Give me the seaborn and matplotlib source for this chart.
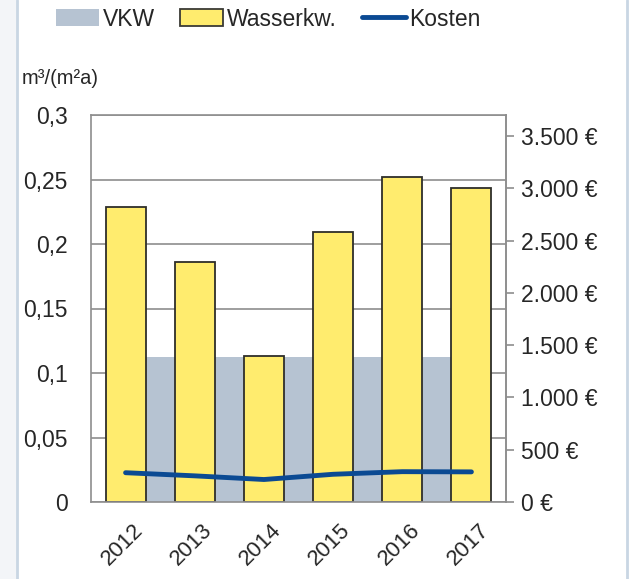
import matplotlib
matplotlib.use("Agg")
import numpy as np
import pandas as pd
import matplotlib.pyplot as plt
import matplotlib.transforms as mtransforms
import seaborn as sns
from matplotlib.patches import Patch
from matplotlib.lines import Line2D
from matplotlib.ticker import FuncFormatter

# ---------------------- 데이터 ----------------------
years = ["2012", "2013", "2014", "2015", "2016", "2017"]
wasserkw = [0.229, 0.186, 0.113, 0.209, 0.252, 0.2435]   # m3/(m2a)
vkw = [0.1125, 0.1125, 0.1125, 0.1125, 0.1125, 0.1125]   # Vergleichskennwert
kosten = [280, 250, 215, 265, 290, 288]                  # EUR

left_ticks = [0, 0.05, 0.1, 0.15, 0.2, 0.25, 0.3]
right_ticks = [0, 500, 1000, 1500, 2000, 2500, 3000, 3500]

YELLOW = "#FFEC6E"
GREY_AREA = "#B6C3D2"
BLUE = "#0B4A93"
GRID = "#8E8E8E"

sns.set_style("white")
plt.rcParams['font.family'] = ['Liberation Sans', 'DejaVu Sans']

df = pd.DataFrame({"Jahr": years, "Wasserkw.": wasserkw, "VKW": vkw, "Kosten": kosten})
pos = np.arange(len(years))

fig = plt.figure(figsize=(6.31, 5.79), dpi=100)
ax = fig.add_axes([91 / 631, 1 - 502 / 579, (506 - 91) / 631, (502 - 115) / 579])

# grey VKW area behind bars
ax.fill_between(pos, 0, df["VKW"], color=GREY_AREA, lw=0, zorder=1)

sns.barplot(data=df, x="Jahr", y="Wasserkw.", color=YELLOW, saturation=1,
            width=0.58, edgecolor="#2E2E2A", linewidth=1.3, ax=ax, zorder=2)

ax.set_xlim(-0.5, 5.5)
ax.set_ylim(0, 0.3)
ax.set_yticks(left_ticks)
ax.yaxis.set_major_formatter(FuncFormatter(lambda v, p: "0" if v == 0 else f"{v:g}".replace(".", ",")))
ax.tick_params(axis="y", length=0, pad=17, labelsize=16.5)
ax.tick_params(axis="x", length=0, pad=13, labelsize=16)
ax.set_xlabel("")
ax.set_ylabel("")
ax.grid(axis="y", color=GRID, lw=1.2, zorder=0)
ax.set_axisbelow(True)
for s in ax.spines.values():
    s.set_color(GRID)
    s.set_linewidth(1.2)
shift = mtransforms.ScaledTranslation(7 / 100, 0, fig.dpi_scale_trans)
for lab in ax.get_xticklabels():
    lab.set_rotation(45)
    lab.set_ha("right")
    lab.set_rotation_mode("anchor")
    lab.set_transform(lab.get_transform() + shift)

# Kosten on secondary axis
ax2 = ax.twinx()
sns.lineplot(x=pos, y=df["Kosten"], color=BLUE, lw=3.5, ax=ax2, solid_capstyle="round")
ax2.set_ylim(0, 3700)
ax2.set_yticks(right_ticks)
ax2.yaxis.set_major_formatter(FuncFormatter(lambda v, p: f"{int(v):,} €".replace(",", ".")))
ax2.tick_params(axis="y", direction="out", length=6, width=1.2, color=GRID, pad=5, labelsize=16.5)
ax2.set_ylabel("")
for s in ax2.spines.values():
    s.set_visible(False)
ax2.spines["right"].set_visible(True)
ax2.spines["right"].set_color(GRID)
ax2.spines["right"].set_linewidth(1.2)

# unit label
fig.text(22 / 631, 1 - 78 / 579, "m³/(m²a)", fontsize=14.5, va="center", ha="left")

# legend
handles = [Patch(facecolor=GREY_AREA, edgecolor="none"),
           Patch(facecolor=YELLOW, edgecolor="#3A3A35", linewidth=1.3),
           Line2D([0], [0], color=BLUE, lw=3.5)]
fig.legend(handles, ["VKW", "Wasserkw.", "Kosten"], loc="center", ncol=3,
           bbox_to_anchor=(268 / 631, 1 - 19 / 579), frameon=False, fontsize=16.5,
           handlelength=1.9, handleheight=0.75, handletextpad=0.15, columnspacing=1.1)

# window frame lines
fig.add_artist(plt.Rectangle((0, 0), 17 / 631, 1, transform=fig.transFigure,
                             facecolor="#F3F5F8", edgecolor="none", zorder=-1))
fig.add_artist(Line2D([17 / 631, 17 / 631], [0, 1], transform=fig.transFigure, color="#C9D6E3", lw=2))
fig.add_artist(Line2D([627 / 631, 627 / 631], [0, 1], transform=fig.transFigure, color="#C9D6E3", lw=2))

fig.savefig("out.png", dpi=100)
